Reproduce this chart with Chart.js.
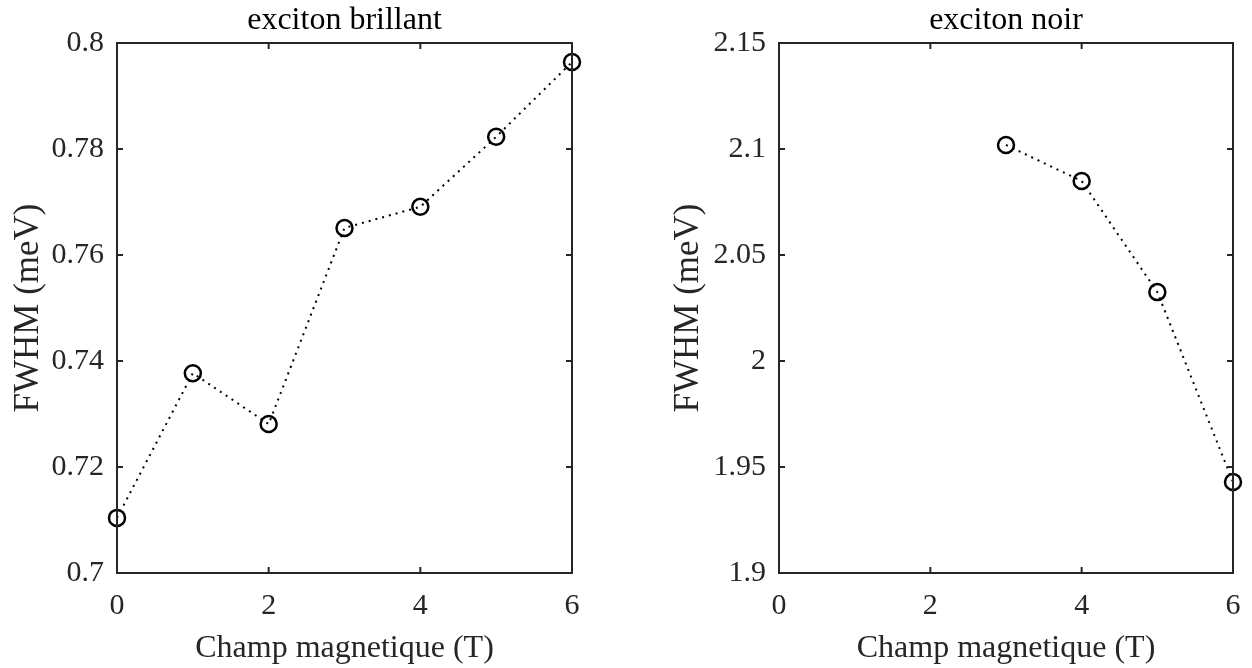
<!DOCTYPE html>
<html>
<head>
<meta charset="utf-8">
<script src="https://cdn.jsdelivr.net/npm/chart.js@4.4.1/dist/chart.umd.min.js"></script>
<style>
  body { margin: 0; background: #fff; }
  canvas { position: absolute; top: 0; }
  #left { left: 0; }
  #right { left: 626px; }
</style>
</head>
<body>
<canvas id="left" width="626" height="668"></canvas>
<canvas id="right" width="626" height="668"></canvas>
<script>
// data
const brightField = [0, 1, 2, 3, 4, 5, 6];
const brightFwhm = [0.7104, 0.7377, 0.7281, 0.7651, 0.7691, 0.7823, 0.7964];
const darkField = [3, 4, 5, 6];
const darkFwhm = [2.1019, 2.0849, 2.0325, 1.9429];

const xTicks = [0, 2, 4, 6];
const brightTicks = [0.7, 0.72, 0.74, 0.76, 0.78, 0.8];
const darkTicks = [1.9, 1.95, 2, 2.05, 2.1, 2.15];

const ink = "#262626";
const font = "'Liberation Serif', 'Times New Roman', serif";

// MATLAB style box with inward ticks
const boxPlugin = {
    id: "box",
    afterDraw(chart) {
        const ctx = chart.ctx;
        const a = chart.chartArea;
        const len = 6;
        ctx.save();
        ctx.strokeStyle = ink;
        ctx.lineWidth = 2;
        ctx.strokeRect(a.left, a.top, a.right - a.left, a.bottom - a.top);
        ctx.beginPath();
        chart.scales.x.ticks.forEach(t => {
            const px = chart.scales.x.getPixelForValue(t.value);
            ctx.moveTo(px, a.bottom); ctx.lineTo(px, a.bottom - len);
            ctx.moveTo(px, a.top); ctx.lineTo(px, a.top + len);
        });
        chart.scales.y.ticks.forEach(t => {
            const py = chart.scales.y.getPixelForValue(t.value);
            ctx.moveTo(a.left, py); ctx.lineTo(a.left + len, py);
            ctx.moveTo(a.right, py); ctx.lineTo(a.right - len, py);
        });
        ctx.stroke();
        ctx.restore();
    }
};

function makeChart(id, title, xs, ys, yTicks, yWidth, padRight, yTitlePad) {
    const ctx = document.getElementById(id).getContext("2d");
    return new Chart(ctx, {
        type: "line",
        data: {
            datasets: [{
                data: xs.map((x, i) => ({ x: x, y: ys[i] })),
                borderColor: "#000",
                borderWidth: 2,
                borderDash: [2, 5],
                pointStyle: "circle",
                pointRadius: 8,
                pointBorderWidth: 2.5,
                pointBackgroundColor: "rgba(0,0,0,0)",
                pointBorderColor: "#000",
                tension: 0,
                clip: false
            }]
        },
        options: {
            responsive: false,
            animation: false,
            layout: { autoPadding: false, padding: { left: 0, right: padRight, top: 0, bottom: 0 } },
            plugins: {
                legend: { display: false },
                tooltip: { enabled: false },
                title: {
                    display: true,
                    fullSize: false,
                    text: title,
                    color: "#000",
                    font: { family: font, size: 32, weight: "normal", lineHeight: 1.2 },
                    padding: { top: 1, bottom: 3.6 }
                }
            },
            scales: {
                x: {
                    type: "linear",
                    min: 0,
                    max: 6,
                    afterBuildTicks: s => { s.ticks = xTicks.map(v => ({ value: v })); },
                    afterFit: s => { s.height = 95; s.paddingLeft = 0; s.paddingRight = 0; },
                    grid: { display: false, drawTicks: false },
                    border: { display: false },
                    ticks: {
                        color: ink,
                        padding: 15,
                        maxRotation: 0,
                        font: { family: font, size: 30 },
                        callback: v => String(v)
                    },
                    title: {
                        display: true,
                        text: "Champ magnetique (T)",
                        color: ink,
                        font: { family: font, size: 32 },
                        padding: { top: 0, bottom: 0 }
                    }
                },
                y: {
                    type: "linear",
                    min: yTicks[0],
                    max: yTicks[yTicks.length - 1],
                    afterBuildTicks: s => { s.ticks = yTicks.map(v => ({ value: v })); },
                    afterFit: s => { s.width = yWidth; },
                    grid: { display: false, drawTicks: false },
                    border: { display: false },
                    ticks: {
                        color: ink,
                        padding: 13,
                        font: { family: font, size: 30 },
                        callback: v => String(+v.toFixed(4))
                    },
                    title: {
                        display: true,
                        text: "FWHM (meV)",
                        color: ink,
                        font: { family: font, size: 35 },
                        padding: { top: yTitlePad, bottom: 0 }
                    }
                }
            }
        },
        plugins: [boxPlugin]
    });
}

makeChart("left", "exciton brillant", brightField, brightFwhm, brightTicks, 117, 54, 8);
makeChart("right", "exciton noir", darkField, darkFwhm, darkTicks, 153, 19, 42);
</script>
</body>
</html>
